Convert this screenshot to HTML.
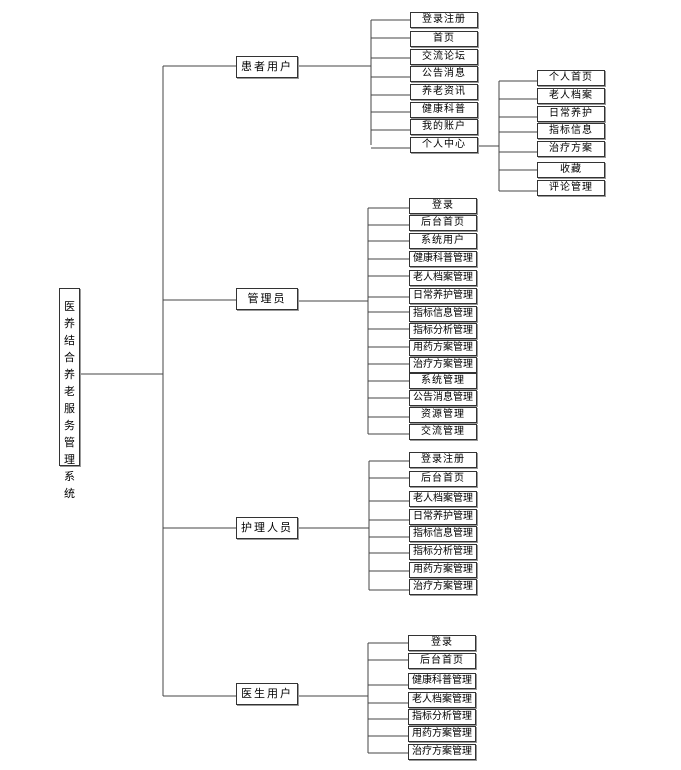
<!DOCTYPE html>
<html><head><meta charset="utf-8"><style>
body{margin:0;width:681px;height:770px;background:#fff;position:relative;overflow:hidden;font-family:"Liberation Sans","Noto Sans CJK SC",sans-serif}
.b{position:absolute;box-sizing:border-box;border:1px solid #333;background:#fff;font-size:10px;line-height:14px;text-align:center;color:#000;letter-spacing:1px;white-space:nowrap;box-shadow:1px 1px 0 #999}
.l1{width:62px;height:22px;line-height:20px;left:236px;font-size:11px;letter-spacing:2px}
.c{width:68px;height:16px;left:409px}
.s{width:68px;height:16px;left:537px}
svg{position:absolute;left:0;top:0}
</style></head><body>
<svg width="681" height="770" stroke="#444" stroke-width="1" fill="none">
<path d="M79 374H163M163 66V696M163 66H236M163 300H236M163 528H236M163 696H236"/>
<path d="M298 66H371M371 20V145M371 20H410M371 38H410M371 58H410M371 77H410M371 95H410M371 112H410M371 130H410M371 148H410"/>
<path d="M478 146H499M499 81V191M499 81H537M499 99H537M499 117H537M499 132H537M499 152H537M499 170H537M499 191H537"/>
<path d="M298 301H368M368 208V434M368 208H409M368 225H409M368 241H409M368 259H409M368 276H409M368 297H409M368 312H409M368 329H409M368 347H409M368 364H409M368 381H409M368 398H409M368 417H409M368 434H409"/>
<path d="M298 528H369M369 461V590M369 461H409M369 478H409M369 501H409M369 520H409M369 537H409M369 553H409M369 571H409M369 590H409"/>
<path d="M298 696H368M368 643V753M368 643H408M368 660H408M368 685H408M368 703H408M368 719H408M368 736H408M368 753H408"/>
</svg>
<div class="b" style="left:59px;top:288px;width:21px;height:178px;font-size:11px;line-height:17px;padding-top:10px;white-space:normal;letter-spacing:0">医<br>养<br>结<br>合<br>养<br>老<br>服<br>务<br>管<br>理<br>系<br>统</div>
<div class="b l1" style="top:56px">患者用户</div>
<div class="b l1" style="top:288px">管理员</div>
<div class="b l1" style="top:517px">护理人员</div>
<div class="b l1" style="top:683px">医生用户</div>

<div class="b c" style="left:410px;top:12px">登录注册</div>
<div class="b c" style="left:410px;top:31px">首页</div>
<div class="b c" style="left:410px;top:49px">交流论坛</div>
<div class="b c" style="left:410px;top:66px">公告消息</div>
<div class="b c" style="left:410px;top:84px">养老资讯</div>
<div class="b c" style="left:410px;top:102px">健康科普</div>
<div class="b c" style="left:410px;top:119px">我的账户</div>
<div class="b c" style="left:410px;top:137px">个人中心</div>

<div class="b s" style="top:70px">个人首页</div>
<div class="b s" style="top:88px">老人档案</div>
<div class="b s" style="top:106px">日常养护</div>
<div class="b s" style="top:123px">指标信息</div>
<div class="b s" style="top:141px">治疗方案</div>
<div class="b s" style="top:162px">收藏</div>
<div class="b s" style="top:180px">评论管理</div>

<div class="b c" style="top:198px">登录</div>
<div class="b c" style="top:215px">后台首页</div>
<div class="b c" style="top:233px">系统用户</div>
<div class="b c" style="top:251px;letter-spacing:0">健康科普管理</div>
<div class="b c" style="top:270px;letter-spacing:0">老人档案管理</div>
<div class="b c" style="top:288px;letter-spacing:0">日常养护管理</div>
<div class="b c" style="top:306px;letter-spacing:0">指标信息管理</div>
<div class="b c" style="top:323px;letter-spacing:0">指标分析管理</div>
<div class="b c" style="top:340px;letter-spacing:0">用药方案管理</div>
<div class="b c" style="top:357px;letter-spacing:0">治疗方案管理</div>
<div class="b c" style="top:373px">系统管理</div>
<div class="b c" style="top:390px;letter-spacing:0">公告消息管理</div>
<div class="b c" style="top:407px">资源管理</div>
<div class="b c" style="top:424px">交流管理</div>

<div class="b c" style="top:452px">登录注册</div>
<div class="b c" style="top:471px">后台首页</div>
<div class="b c" style="top:491px;letter-spacing:0">老人档案管理</div>
<div class="b c" style="top:509px;letter-spacing:0">日常养护管理</div>
<div class="b c" style="top:526px;letter-spacing:0">指标信息管理</div>
<div class="b c" style="top:544px;letter-spacing:0">指标分析管理</div>
<div class="b c" style="top:562px;letter-spacing:0">用药方案管理</div>
<div class="b c" style="top:579px;letter-spacing:0">治疗方案管理</div>

<div class="b c" style="left:408px;top:635px">登录</div>
<div class="b c" style="left:408px;top:653px">后台首页</div>
<div class="b c" style="left:408px;top:673px;letter-spacing:0">健康科普管理</div>
<div class="b c" style="left:408px;top:692px;letter-spacing:0">老人档案管理</div>
<div class="b c" style="left:408px;top:709px;letter-spacing:0">指标分析管理</div>
<div class="b c" style="left:408px;top:726px;letter-spacing:0">用药方案管理</div>
<div class="b c" style="left:408px;top:744px;letter-spacing:0">治疗方案管理</div>
</body></html>
